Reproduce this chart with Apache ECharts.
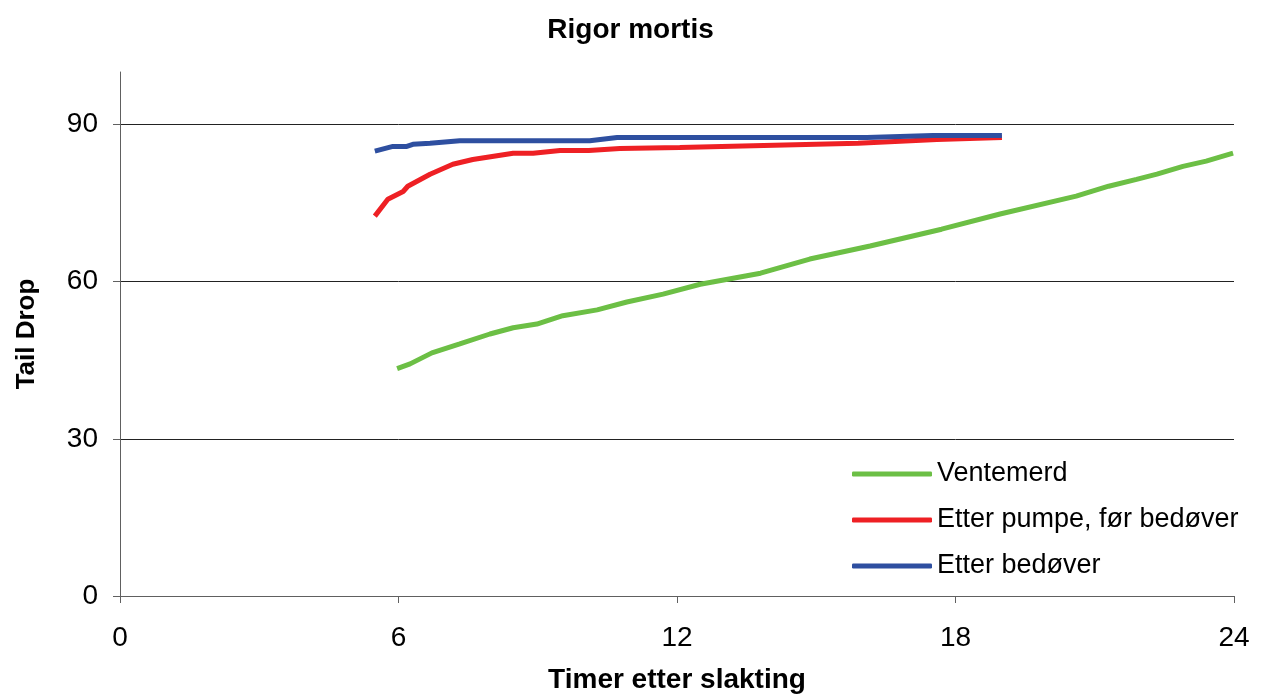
<!DOCTYPE html>
<html>
<head>
<meta charset="utf-8">
<script src="https://cdn.jsdelivr.net/npm/echarts@6/dist/echarts.min.js"></script>
<style>html,body{margin:0;padding:0;background:#fff;}#c{width:1261px;height:695px;}</style>
</head>
<body>
<div id="c"></div>
<script>
const seriesNames = ['Ventemerd', 'Etter pumpe, før bedøver', 'Etter bedøver'];
const xTicks = [0, 6, 12, 18, 24];
const yTicks = [0, 30, 60, 90];

const ventemerdX = [5.97, 6.25, 6.72, 7.32, 7.97, 8.47, 8.98, 9.54, 10.28, 10.92, 11.7, 12.5, 13.8, 14.86, 16.16, 17.7, 18.96, 20.6, 21.3, 21.9, 22.34, 22.9, 23.4, 23.98];
const ventemerdY = [43.4, 44.3, 46.4, 48.1, 50.0, 51.2, 51.9, 53.5, 54.6, 56.1, 57.6, 59.5, 61.6, 64.3, 66.8, 70.0, 72.9, 76.3, 78.2, 79.5, 80.5, 82.0, 83.0, 84.5];

const pumpeX = [5.49, 5.77, 6.1, 6.2, 6.68, 7.17, 7.6, 8.47, 8.9, 9.48, 10.1, 10.77, 12.06, 15.9, 17.6, 19.0];
const pumpeY = [72.5, 75.7, 77.2, 78.2, 80.5, 82.4, 83.3, 84.5, 84.5, 85.0, 85.0, 85.4, 85.6, 86.4, 87.1, 87.5];

const bedoverX = [5.49, 5.88, 6.18, 6.31, 6.68, 7.32, 10.12, 10.71, 16.09, 17.51, 19.0];
const bedoverY = [84.9, 85.8, 85.8, 86.2, 86.4, 86.9, 86.9, 87.5, 87.5, 87.9, 87.9];

const zip = (xs, ys) => xs.map((x, i) => [x, ys[i]]);
const colors = ['#6CBF45', '#EE2024', '#2E4FA0'];
const font = 'Liberation Sans, Arial, sans-serif';

const chart = echarts.init(document.getElementById('c'), null, {renderer: 'canvas'});
chart.setOption({
  animation: false,
  backgroundColor: '#fff',
  title: {
    text: 'Rigor mortis', left: 'center', top: 11,
    textStyle: {fontFamily: font, fontWeight: 'bold', fontSize: 28, color: '#000'}
  },
  grid: {left: 120, right: 27, top: 72, bottom: 99, containLabel: false, outerBoundsMode: 'none'},
  legend: {
    orient: 'vertical', left: 847, top: 455, itemGap: 18,
    itemWidth: 80, itemHeight: 5, icon: 'roundRect',
    textStyle: {fontFamily: font, fontSize: 27, color: '#000', lineHeight: 28},
    data: seriesNames
  },
  xAxis: {
    type: 'value', min: 0, max: 24, interval: 6,
    name: 'Timer etter slakting', nameLocation: 'middle', nameGap: 70,
    nameTextStyle: {fontFamily: font, fontWeight: 'bold', fontSize: 28, color: '#000'},
    axisLine: {show: true, lineStyle: {color: '#606060', width: 1}},
    axisTick: {show: true, length: 7, lineStyle: {color: '#606060'}},
    axisLabel: {fontFamily: font, fontSize: 28, color: '#000', margin: 28,
      formatter: v => xTicks.includes(v) ? String(v) : ''},
    splitLine: {show: false}
  },
  yAxis: {
    type: 'value', min: 0, max: 100, interval: 30,
    name: 'Tail Drop', nameLocation: 'middle', nameGap: 80,
    nameTextStyle: {fontFamily: font, fontWeight: 'bold', fontSize: 26, color: '#000'},
    axisLine: {show: true, lineStyle: {color: '#606060', width: 1}},
    axisTick: {show: true, length: 7, lineStyle: {color: '#606060'}, customValues: yTicks},
    axisLabel: {fontFamily: font, fontSize: 28, color: '#000', margin: 22, customValues: yTicks},
    splitLine: {show: true, lineStyle: {color: '#222', width: 1}}
  },
  series: [
    {name: seriesNames[0], type: 'line', data: zip(ventemerdX, ventemerdY), showSymbol: false, symbol: 'none',
      lineStyle: {color: colors[0], width: 5}, itemStyle: {color: colors[0]}},
    {name: seriesNames[1], type: 'line', data: zip(pumpeX, pumpeY), showSymbol: false, symbol: 'none',
      lineStyle: {color: colors[1], width: 5}, itemStyle: {color: colors[1]}},
    {name: seriesNames[2], type: 'line', data: zip(bedoverX, bedoverY), showSymbol: false, symbol: 'none',
      lineStyle: {color: colors[2], width: 5}, itemStyle: {color: colors[2]}}
  ]
});
</script>
</body>
</html>
